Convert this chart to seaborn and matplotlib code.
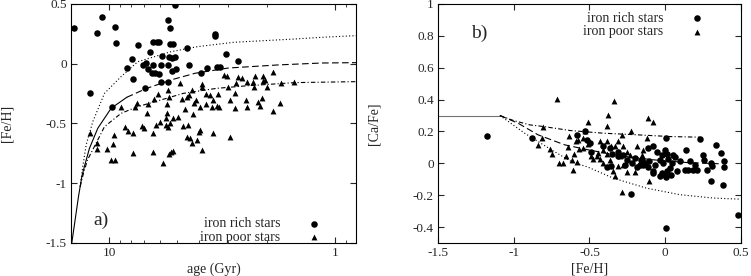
import numpy as np
import pandas as pd
import matplotlib
matplotlib.use("Agg")
import matplotlib.pyplot as plt
import seaborn as sns
from matplotlib.ticker import LogLocator, NullFormatter

# ---- panel a) : [Fe/H] vs age ----
age_rich = [14.33, 10.81, 11.30, 9.44, 9.38, 12.14, 7.44, 7.91, 8.32, 7.83, 6.91, 7.07,
            6.63, 6.43, 6.15, 6.01, 6.45, 6.77, 5.87, 6.01, 6.26, 5.91, 6.43, 5.48, 5.39,
            5.12, 5.39, 5.21, 5.47, 5.30, 5.12, 5.50, 5.26, 5.07, 5.48, 5.93, 4.55, 4.44,
            3.94, 3.71, 3.41, 3.41, 3.35, 3.24, 3.05, 2.71, 9.76, 6.95]
feh_rich = [0.296, 0.388, 0.255, 0.310, 0.171, -0.248, 0.160, 0.037, -0.038, -0.125, 0.009, -0.010,
            0.096, 0.185, 0.185, 0.185, -0.080, -0.044, 0.068, -0.083, -0.080, -0.010, -0.010, 0.366, 0.302,
            0.492, 0.163, 0.163, 0.054, 0.045, 0.059, -0.010, -0.058, -0.047, -0.150, -0.150, 0.135, -0.010,
            -0.075, -0.033, 0.246, 0.232, -0.030, -0.024, 0.079, 0.023, -0.365, -0.206]

age_poor = [8.91, 7.70, 8.52, 8.27, 7.83, 7.83, 7.19, 7.03, 6.72, 6.32, 6.11, 6.84, 6.39, 6.43,
            6.24, 5.97, 5.77, 11.30, 11.38, 12.18, 10.20, 9.60, 9.50, 9.83, 9.44, 5.63, 5.54,
            5.47, 5.58, 5.61, 5.52, 5.39, 5.33, 5.23, 5.48, 5.44, 5.21, 4.95, 4.87, 4.75, 4.74,
            4.64, 4.55, 4.47, 4.55, 4.43, 4.38, 4.32, 4.32, 4.25, 4.21, 4.14, 4.11, 4.01, 3.97,
            3.97, 3.90, 3.88, 3.75, 3.74, 3.90, 3.59, 3.51, 3.47, 3.49, 3.33, 3.26, 3.29, 3.11,
            3.03, 3.00, 2.94, 2.94, 2.78, 2.78, 2.75, 2.71, 2.60, 2.48, 2.47, 2.45, 2.31, 2.29,
            2.27, 2.19, 2.15, 2.12, 2.10, 2.08, 2.05, 2.01, 1.89, 1.88, 1.75, 1.74, 1.53, 7.52]
feh_poor = [-0.365, -0.365, -0.527, -0.563, -0.582, -0.750, -0.521, -0.535, -0.340, -0.298, -0.253, -0.415, -0.577, -0.736,
            -0.512, -0.485, -0.833, -0.716, -0.666, -0.577, -0.713, -0.671, -0.596, -0.805, -0.805, -0.457, -0.409,
            -0.281, -0.337, -0.512, -0.527, -0.499, -0.736, -0.727, -0.220, -0.758, -0.457, -0.448, -0.158, -0.298, -0.518,
            -0.381, -0.281, -0.512, -0.610, -0.261, -0.624, -0.666, -0.220, -0.423, -0.331, -0.303, -0.638, -0.574, -0.554,
            -0.365, -0.197, -0.172, -0.340, -0.256, -0.722, -0.262, -0.365, -0.303, -0.582, -0.354, -0.359, -0.253, -0.094,
            -0.100, -0.197, -0.303, -0.610, -0.248, -0.373, -0.158, -0.114, -0.116, -0.303, -0.359, -0.150, -0.150, -0.197,
            -0.103, -0.317, -0.354, -0.289, -0.103, -0.144, -0.136, -0.192, -0.072, -0.395, -0.331, -0.164, -0.150, -0.331]

# model curves
age_mid_solid = [14.68, 14.19, 13.71, 13.25, 12.91, 12.26, 11.26, 9.83, 8.38]
feh_mid_solid = [-1.50, -1.308, -1.112, -0.945, -0.861, -0.708, -0.540, -0.373, -0.281]
age_mid_dash = [8.38, 6.84, 5.21, 4.18, 2.98, 1.79, 1.15, 0.81]
feh_mid_dash = [-0.281, -0.206, -0.130, -0.080, -0.036, -0.010, 0.006, 0.009]
age_up = [13.48, 13.12, 12.68, 11.85, 10.52, 8.88, 7.49, 5.33, 4.07, 2.83, 1.51, 1.15, 0.81]
feh_up = [-1.029, -0.861, -0.680, -0.485, -0.248, -0.108, 0.017, 0.101, 0.143, 0.179, 0.207, 0.221, 0.235]
age_low = [13.48, 13.03, 12.51, 11.46, 10.52, 8.88, 7.49, 5.91, 4.71, 3.35, 2.51, 1.51, 0.81]
feh_low = [-1.029, -0.917, -0.805, -0.666, -0.527, -0.415, -0.359, -0.303, -0.248, -0.206, -0.186, -0.158, -0.150]

# ---- panel b) : [Ca/Fe] vs [Fe/H] ----
fe_rich = [-1.174, -0.877, -0.585, -0.530, -0.514, -0.497, -0.490, -0.409, -0.365, -0.354, -0.387, -0.360,
           -0.310, -0.310, -0.277, -0.255, -0.266, -0.200, -0.162, -0.145, -0.189, -0.222, -0.079, -0.226,
           0.005, 0.137, 0.229, 0.335, 0.368, -0.112, -0.079, -0.057, -0.002, -0.024, 0.009, 0.053, 0.064,
           0.020, -0.035, -0.013, 0.042, 0.097, 0.163, 0.196, 0.251, 0.256, 0.300, 0.388, 0.390, 0.306,
           0.273, 0.212, 0.185, 0.152, 0.130, 0.075, 0.031, 0.009, -0.002, 0.005, 0.036, -0.024, -0.035,
           -0.079, -0.112, -0.134, -0.156, -0.167, -0.105, -0.068, 0.302, 0.383, 0.482, 0.005]
ca_rich = [0.172, 0.162, 0.179, 0.204, 0.147, 0.126, 0.074, 0.106, 0.095, 0.060, -0.020, -0.016,
           0.043, 0.074, 0.053, 0.022, -0.009, 0.032, 0.022, -0.009, -0.020, 0.001, -0.062, -0.191,
           0.158, 0.085, 0.154, 0.116, 0.064, 0.095, 0.110, 0.074, 0.085, 0.053, 0.060, 0.053, 0.039,
           0.026, 0.022, 0.001, 0.001, 0.012, 0.012, -0.009, 0.053, 0.022, 0.001, 0.012, -0.020, -0.016,
           -0.041, -0.041, -0.041, -0.041, -0.045, -0.051, -0.030, -0.051, -0.072, -0.087, -0.072, -0.062, -0.078,
           -0.051, -0.020, 0.005, 0.022, -0.009, 0.012, -0.009, -0.114, -0.135, -0.327, -0.406]

fe_poor = [-0.717, -0.336, -0.380, -0.387, -0.116, -0.079, -0.512, -0.807, -0.226, -0.530, -0.288, -0.123,
           -0.816, -0.842, -0.761, -0.745, -0.701, -0.677, -0.655, -0.640, -0.602, -0.585, -0.607, -0.569,
           -0.589, -0.541, -0.492, -0.479, -0.508, -0.446, -0.409, -0.431, -0.387, -0.360, -0.331, -0.310,
           -0.296, -0.343, -0.331, -0.255, -0.288, -0.310, -0.200, -0.156, -0.145, -0.105, -0.189, -0.233,
           -0.255, -0.277, -0.409, -0.431, -0.365, -0.387, -0.541, -0.635, -0.574, -0.453, -0.618, -0.277]
ca_poor = [0.404, 0.388, 0.304, 0.235, 0.287, 0.262, 0.262, 0.231, 0.204, 0.204, 0.179, 0.158,
           0.162, 0.112, 0.091, 0.057, 0.005, 0.005, 0.043, 0.101, 0.060, 0.011, -0.045, 0.091,
           0.143, 0.158, 0.047, 0.026, 0.122, 0.064, 0.085, 0.143, 0.143, 0.106, 0.106, 0.143,
           0.043, -0.051, -0.078, -0.057, -0.183, -0.014, -0.057, 0.053, 0.085, -0.114, 0.106, 0.053,
           0.074, 0.106, 0.001, 0.026, 0.022, 0.060, 0.095, 0.174, 0.147, 0.043, 0.022, -0.009]

fe_plateau = [-1.5, -1.091]
ca_plateau = [0.3, 0.3]
fe_up = [-1.091, -1.003, -0.893, -0.805, -0.629, -0.409, -0.189, 0.031, 0.229]
ca_up = [0.300, 0.269, 0.241, 0.231, 0.206, 0.189, 0.179, 0.168, 0.164]
fe_mid = [-1.091, -0.972, -0.840, -0.664, -0.510, -0.299, -0.079, 0.141, 0.361]
ca_mid = [0.300, 0.252, 0.179, 0.116, 0.085, 0.047, 0.022, 0.005, -0.003]
fe_low = [-1.091, -0.928, -0.752, -0.620, -0.510, -0.343, -0.123, 0.097, 0.317, 0.493]
ca_low = [0.300, 0.189, 0.085, 0.011, -0.024, -0.093, -0.156, -0.197, -0.218, -0.225]

sns.set_style("ticks")
plt.rcParams['font.family'] = ['Liberation Serif', 'DejaVu Serif']
plt.rcParams['axes.unicode_minus'] = False
plt.rcParams['xtick.direction'] = 'in'
plt.rcParams['ytick.direction'] = 'in'
plt.rcParams['xtick.top'] = True
plt.rcParams['ytick.right'] = True

fig = plt.figure(figsize=(7.51, 2.76), dpi=100)
ax1 = fig.add_axes([0.0945, 0.1196, 0.3795, 0.866])
ax2 = fig.add_axes([0.5832, 0.1196, 0.4035, 0.866])

lw = 0.8
dot = (0, (1, 2))
dashdot = (0, (4, 2, 1, 2))
dash = (0, (6, 3))
leg_kw = dict(loc='upper right', frameon=False, markerfirst=False, fontsize=10,
              handlelength=0.8, handletextpad=2.0, labelspacing=0.02, borderaxespad=0)

# panel a
ax1.set_xscale('log')
sns.lineplot(x=age_mid_solid, y=feh_mid_solid, sort=False, estimator=None, ax=ax1, color='k', lw=lw)
sns.lineplot(x=age_mid_dash, y=feh_mid_dash, sort=False, estimator=None, ax=ax1, color='k', lw=lw, linestyle=dash)
sns.lineplot(x=age_up, y=feh_up, sort=False, estimator=None, ax=ax1, color='k', lw=lw, linestyle=dot)
sns.lineplot(x=age_low, y=feh_low, sort=False, estimator=None, ax=ax1, color='k', lw=lw, linestyle=dashdot)
sns.scatterplot(x=age_rich, y=feh_rich, ax=ax1, marker='o', s=22, color='k', linewidth=0, label='iron rich stars')
sns.scatterplot(x=age_poor, y=feh_poor, ax=ax1, marker='^', s=18, color='k', linewidth=0, label='iron poor stars')
ax1.set_xlim(14.8, 0.81)
ax1.set_ylim(-1.5, 0.5)
ax1.set_xticks([10, 1])
ax1.set_xticklabels(['10', '1'])
ax1.xaxis.set_minor_locator(LogLocator(base=10, subs=np.arange(2, 10)))
ax1.xaxis.set_minor_formatter(NullFormatter())
ax1.set_yticks([-1.5, -1, -0.5, 0, 0.5])
ax1.set_yticklabels(['-1.5', '-1', '-0.5', '0', '0.5'])
ax1.set_xlabel('age (Gyr)', fontsize=10)
ax1.set_ylabel('[Fe/H]', fontsize=10)
ax1.xaxis.set_label_coords(0.5, -0.08)
ax1.yaxis.set_label_coords(-0.2, 0.5)
ax1.text(0.105, 0.096, 'a)', transform=ax1.transAxes, fontsize=14, ha='center', va='center')
ax1.legend(bbox_to_anchor=(0.89, 0.13), **leg_kw)

# panel b
sns.lineplot(x=fe_plateau, y=ca_plateau, sort=False, estimator=None, ax=ax2, color='0.45', lw=lw)
sns.lineplot(x=fe_up, y=ca_up, sort=False, estimator=None, ax=ax2, color='k', lw=lw, linestyle=dashdot)
sns.lineplot(x=fe_mid, y=ca_mid, sort=False, estimator=None, ax=ax2, color='k', lw=lw, linestyle=dash)
sns.lineplot(x=fe_low, y=ca_low, sort=False, estimator=None, ax=ax2, color='k', lw=lw, linestyle=dot)
sns.scatterplot(x=fe_rich, y=ca_rich, ax=ax2, marker='o', s=22, color='k', linewidth=0, label='iron rich stars')
sns.scatterplot(x=fe_poor, y=ca_poor, ax=ax2, marker='^', s=18, color='k', linewidth=0, label='iron poor stars')
ax2.set_xlim(-1.5, 0.5)
ax2.set_ylim(-0.5, 1.0)
ax2.set_xticks([-1.5, -1, -0.5, 0, 0.5])
ax2.set_xticklabels(['-1.5', '-1', '-0.5', '0', '0.5'])
ax2.set_yticks([-0.4, -0.2, 0, 0.2, 0.4, 0.6, 0.8, 1.0])
ax2.set_yticklabels(['-0.4', '-0.2', '0', '0.2', '0.4', '0.6', '0.8', '1'])
ax2.set_xlabel('[Fe/H]', fontsize=10)
ax2.set_ylabel('[Ca/Fe]', fontsize=10)
ax2.xaxis.set_label_coords(0.5, -0.08)
ax2.yaxis.set_label_coords(-0.19, 0.5)
ax2.text(0.135, 0.879, 'b)', transform=ax2.transAxes, fontsize=14, ha='center', va='center')
ax2.legend(bbox_to_anchor=(0.89, 0.99), **leg_kw)

for ax in (ax1, ax2):
    ax.tick_params(which='major', length=4, width=0.8, labelsize=9.5, pad=3)
    ax.tick_params(which='minor', length=2, width=0.6)
    for sp in ax.spines.values():
        sp.set_linewidth(0.8)
        sp.set_color('k')

fig.savefig('out.png', dpi=100)
